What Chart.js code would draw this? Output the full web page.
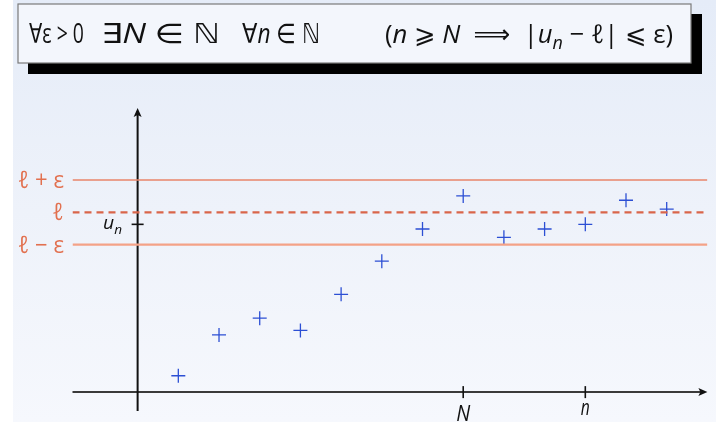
<!DOCTYPE html>
<html>
<head>
<meta charset="utf-8">
<script src="https://cdn.jsdelivr.net/npm/chart.js@4.4.1/dist/chart.umd.min.js"></script>
<style>
  html, body { margin: 0; padding: 0; background: #fff; }
  #wrap { width: 716px; height: 422px; }
</style>
</head>
<body>
<div id="wrap"><canvas id="seqChart" width="716" height="422"></canvas></div>
<script>
// Sequence values u_1 ... u_13
const nValues = [1, 2, 3, 4, 5, 6, 7, 8, 9, 10, 11, 12, 13];
const uValues = [0.91, 3.18, 4.11, 3.43, 5.44, 7.28, 9.07, 10.91, 8.61, 9.07, 9.33, 10.67, 10.18];

// Limit and tolerance band
const ell = 10;
const eps = 1.8;
const bandLabels = ['ℓ + ε', 'ℓ', 'ℓ − ε'];

// Marked ticks on the n axis and on the vertical axis
const xTickValues = [8, 11];
const xTickLabels = ['N', 'n'];
const yTickIndex = 10; // u_n with n = 11

const xMin = -1.6, xMax = 14;
const yMin = -1.05, yMax = 15.8;

const FONT = "'Open Sans', 'DejaVu Sans', sans-serif";

// draw a list of text runs, squeezed horizontally (the slide is squeezed)
function drawRuns(ctx, runs, x, y, size, opts) {
    opts = opts || {};
    let w = 0;
    const parts = runs.map(r => {
        const s = r.sub ? size * 0.7 : size;
        const f = (r.it ? 'italic ' : '') + s + 'px ' + FONT;
        ctx.font = f;
        const rw = ctx.measureText(r.t).width;
        w += rw;
        return { t: r.t, f: f, w: rw, dy: r.sub ? size * 0.22 : 0 };
    });
    const sx = opts.width ? opts.width / w : (opts.sx || 0.75);
    let x0 = x;
    if (opts.align === 'right') x0 = x - w * sx;
    if (opts.align === 'center') x0 = x - w * sx / 2;
    ctx.save();
    ctx.translate(x0, y);
    ctx.scale(sx, 1);
    ctx.fillStyle = opts.color || '#111';
    ctx.textBaseline = 'alphabetic';
    ctx.textAlign = 'left';
    let cx = 0;
    parts.forEach(p => {
        ctx.font = p.f;
        ctx.fillText(p.t, cx, p.dy);
        cx += p.w;
    });
    ctx.restore();
    return sx;
}

function arrowHead(ctx, x, y, dir) {
    ctx.beginPath();
    if (dir === 'up') {
        ctx.moveTo(x, y);
        ctx.lineTo(x - 4, y + 9);
        ctx.lineTo(x, y + 7);
        ctx.lineTo(x + 4, y + 9);
    } else {
        ctx.moveTo(x, y);
        ctx.lineTo(x - 9, y - 4);
        ctx.lineTo(x - 7, y);
        ctx.lineTo(x - 9, y + 4);
    }
    ctx.closePath();
    ctx.fill();
}

const slidePlugin = {
    id: 'slide',
    beforeDraw(chart) {
        const ctx = chart.ctx;
        ctx.save();
        ctx.fillStyle = '#ffffff';
        ctx.fillRect(0, 0, 716, 422);
        const g = ctx.createLinearGradient(0, 0, 0, 422);
        g.addColorStop(0, '#e5ecf8');
        g.addColorStop(0.5, '#eef2fa');
        g.addColorStop(1, '#f6f8fd');
        ctx.fillStyle = g;
        ctx.fillRect(13, 0, 703, 422);

        // formula box with shadow
        ctx.fillStyle = '#000';
        ctx.fillRect(28, 14, 674, 60);
        ctx.fillStyle = '#f3f6fc';
        ctx.fillRect(18, 4, 673, 59);
        ctx.strokeStyle = '#7a7a7a';
        ctx.lineWidth = 1.2;
        ctx.strokeRect(18, 4, 673, 59);
        ctx.restore();

        drawRuns(ctx, [{ t: '∀ε > 0' }], 29, 43, 27, { width: 55 });
        drawRuns(ctx, [{ t: '∃' }, { t: 'N', it: 1 }, { t: ' ∈ ℕ' }], 101, 43, 27, { width: 119 });
        drawRuns(ctx, [{ t: '∀' }, { t: 'n', it: 1 }, { t: ' ∈ ℕ' }], 242, 43, 27, { width: 78 });
        drawRuns(ctx, [
            { t: '(' }, { t: 'n', it: 1 }, { t: ' ⩾ ' }, { t: 'N', it: 1 }, { t: '  ⟹  |' },
            { t: 'u', it: 1 }, { t: 'n', it: 1, sub: 1 }, { t: ' − ℓ| ⩽ ε)' }
        ], 385, 43, 26, { width: 288 });

        // axes
        const xs = chart.scales.x, ys = chart.scales.y;
        const x0 = xs.getPixelForValue(0), y0 = ys.getPixelForValue(0);
        ctx.save();
        ctx.strokeStyle = '#3a3a3a';
        ctx.fillStyle = '#111';
        ctx.lineWidth = 2;
        ctx.beginPath();
        ctx.moveTo(xs.left, y0);
        ctx.lineTo(xs.right - 3, y0);
        ctx.stroke();
        arrowHead(ctx, xs.right, y0, 'right');
        ctx.strokeStyle = '#111';
        ctx.beginPath();
        ctx.moveTo(x0, ys.bottom);
        ctx.lineTo(x0, ys.top + 3);
        ctx.stroke();
        arrowHead(ctx, x0, ys.top, 'up');

        // ticks N and n
        ctx.lineWidth = 1.6;
        xTickValues.forEach(v => {
            const px = xs.getPixelForValue(v);
            ctx.beginPath();
            ctx.moveTo(px, y0 - 6);
            ctx.lineTo(px, y0 + 6);
            ctx.stroke();
        });
        // tick u_n
        const py = ys.getPixelForValue(uValues[yTickIndex]);
        ctx.beginPath();
        ctx.moveTo(x0 - 6, py);
        ctx.lineTo(x0 + 6, py);
        ctx.stroke();
        ctx.restore();
    },
    afterDraw(chart) {
        const ctx = chart.ctx;
        const xs = chart.scales.x, ys = chart.scales.y;
        const y0 = ys.getPixelForValue(0);
        const orange = '#e2704f';
        const bandValues = [ell + eps, ell, ell - eps];
        const sxBand = drawRuns(ctx, [{ t: bandLabels[0] }], 64, ys.getPixelForValue(bandValues[0]) + 8, 24,
            { align: 'right', color: orange, width: 46 });
        for (let i = 1; i < 3; i++) {
            drawRuns(ctx, [{ t: bandLabels[i] }], 64, ys.getPixelForValue(bandValues[i]) + 8, 24,
                { align: 'right', color: orange, sx: sxBand });
        }
        const labelWidths = [14, 9];
        const labelBase = [29, 23];
        xTickValues.forEach((v, i) => {
            drawRuns(ctx, [{ t: xTickLabels[i], it: 1 }], xs.getPixelForValue(v), y0 + labelBase[i], 21,
                { align: 'center', width: labelWidths[i] });
        });
        const py = ys.getPixelForValue(uValues[yTickIndex]);
        drawRuns(ctx, [{ t: 'u', it: 1 }, { t: 'n', it: 1, sub: 1 }], 122, py + 5, 19, { align: 'right', width: 19 });
    }
};

const lineAt = v => [{ x: xMin, y: v }, { x: xMax, y: v }];

const ctx = document.getElementById('seqChart').getContext('2d');
const seqChart = new Chart(ctx, {
    type: 'scatter',
    data: {
        datasets: [
            {
                type: 'line', data: lineAt(ell + eps),
                borderColor: '#e8846a', borderWidth: 1.6, pointRadius: 0
            },
            {
                type: 'line', data: lineAt(ell),
                borderColor: '#d9654a', borderWidth: 2.2, borderDash: [7, 5], pointRadius: 0
            },
            {
                type: 'line', data: lineAt(ell - eps),
                borderColor: '#f4a287', borderWidth: 2.4, pointRadius: 0
            },
            {
                label: 'u_n',
                data: nValues.map((n, i) => ({ x: n, y: uValues[i] })),
                pointStyle: 'cross',
                pointRadius: 7,
                borderColor: '#2c4fd4',
                borderWidth: 1.3
            }
        ]
    },
    options: {
        responsive: false,
        animation: false,
        events: [],
        layout: { padding: { left: 72.5, right: 8.6, top: 108, bottom: 11 } },
        plugins: { legend: { display: false }, tooltip: { enabled: false } },
        scales: {
            x: { type: 'linear', min: xMin, max: xMax, display: false },
            y: { type: 'linear', min: yMin, max: yMax, display: false }
        }
    },
    plugins: [slidePlugin]
});
</script>
</body>
</html>
